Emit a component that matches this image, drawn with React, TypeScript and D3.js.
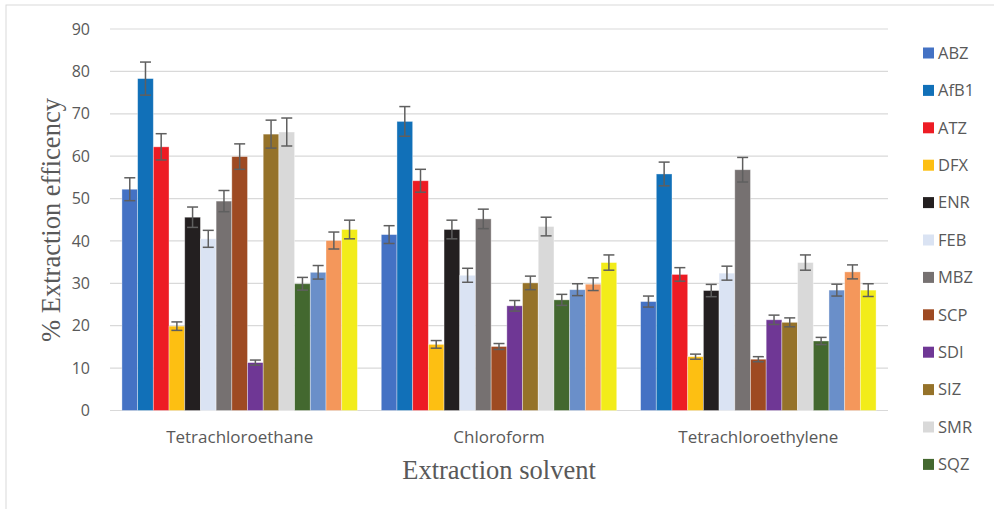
import React from "react";
import * as d3 from "d3";

// Extraction solvents (x categories)
const solvents = ["Tetrachloroethane", "Chloroform", "Tetrachloroethylene"];

// Analytes (bar series, in drawing order)
const analytes = [
  "ABZ", "AfB1", "ATZ", "DFX", "ENR", "FEB", "MBZ", "SCP",
  "SDI", "SIZ", "SMR", "SQZ", "STZ", "TBZ", "TMP",
];

// Number of legend entries that fit in the chart frame
const legendCount = 12;

const colors = [
  "#4472C4", "#1170B8", "#ED1C24", "#FDBF12", "#231F20", "#DAE3F3",
  "#767171", "#9E4A22", "#6F3795", "#957229", "#D9D9D9", "#43682F",
  "#6A8FC9", "#F4975B", "#F2EC1A",
];

// % extraction efficiency per analyte, one array per solvent
const tetrachloroethane = [52.2, 78.3, 62.2, 19.9, 45.6, 40.5, 49.4, 59.9, 11.3, 65.2, 65.7, 29.9, 32.6, 40.1, 42.7];
const chloroform = [41.5, 68.2, 54.2, 15.6, 42.7, 31.9, 45.2, 15.1, 24.7, 30.1, 43.4, 26.1, 28.5, 29.8, 34.9];
const tetrachloroethylene = [25.7, 55.8, 32.1, 12.7, 28.3, 32.4, 56.8, 12.1, 21.4, 20.8, 34.9, 16.4, 28.4, 32.7, 28.4];

// Error (± half range)
const errTetrachloroethane = [2.7, 3.9, 3.1, 1.0, 2.4, 2.0, 2.5, 3.0, 0.6, 3.3, 3.3, 1.5, 1.6, 2.0, 2.2];
const errChloroform = [2.1, 3.5, 2.7, 0.9, 2.2, 1.65, 2.3, 0.7, 1.25, 1.6, 2.2, 1.3, 1.4, 1.5, 1.8];
const errTetrachloroethylene = [1.3, 2.8, 1.6, 0.6, 1.45, 1.65, 2.9, 0.6, 1.1, 1.05, 1.8, 0.85, 1.4, 1.65, 1.5];

const yTicks = [0, 10, 20, 30, 40, 50, 60, 70, 80, 90];

const values = [tetrachloroethane, chloroform, tetrachloroethylene];
const errors = [errTetrachloroethane, errChloroform, errTetrachloroethylene];

const W = 994;
const H = 509;
const plot = { left: 110, right: 888, top: 29, bottom: 410.5 };
const textGray = "#595959";
const sans = "'Open Sans', 'Noto Sans', sans-serif";
const serif = "'Liberation Serif', 'DejaVu Serif', serif";

export default function App() {
  const x0 = d3.scaleBand<string>().domain(solvents).range([plot.left, plot.right]).padding(0);
  const x1 = d3
    .scaleBand<string>()
    .domain(analytes)
    .range([0, x0.bandwidth()])
    .paddingInner(0)
    .paddingOuter(0.76);
  const y = d3.scaleLinear().domain([0, 90]).range([plot.bottom, plot.top]);
  const bw = x1.bandwidth();
  const capHalf = 5.5;

  return (
    <svg
      width={W}
      height={H}
      viewBox={`0 0 ${W} ${H}`}
      style={{ position: "absolute", left: 0, top: 0, background: "#fff" }}
    >
      {/* chart frame */}
      <rect x={6} y={5} width={W + 20} height={H + 20} fill="#fff" stroke="#D9D9D9" strokeWidth={1} />

      {/* gridlines */}
      {yTicks.map((t) => (
        <line
          key={`g${t}`}
          x1={plot.left}
          x2={plot.right}
          y1={y(t)}
          y2={y(t)}
          stroke="#D9D9D9"
          strokeWidth={1.2}
        />
      ))}

      {/* y tick labels */}
      {yTicks.map((t) => (
        <text
          key={`t${t}`}
          x={90}
          y={y(t)}
          dy="0.35em"
          textAnchor="end"
          fontFamily={sans}
          fontSize={16}
          fill={textGray}
        >
          {t}
        </text>
      ))}

      {/* bars */}
      {solvents.map((s, gi) => (
        <g key={s} transform={`translate(${x0(s)},0)`}>
          {analytes.map((a, i) => {
            const v = values[gi][i];
            const bx = x1(a) as number;
            return (
              <rect
                key={a}
                x={bx}
                y={y(v)}
                width={bw}
                height={y(0) - y(v)}
                fill={colors[i]}
                stroke="#ffffff"
                strokeOpacity={0.45}
                strokeWidth={0.8}
              />
            );
          })}
          {analytes.map((a, i) => {
            const v = values[gi][i];
            const e = errors[gi][i];
            const cx = (x1(a) as number) + bw / 2;
            return (
              <g key={`e${a}`} stroke="#5F5F5F" strokeWidth={1.5}>
                <line x1={cx} x2={cx} y1={y(v + e)} y2={y(v - e)} />
                <line x1={cx - capHalf} x2={cx + capHalf} y1={y(v + e)} y2={y(v + e)} />
                <line x1={cx - capHalf} x2={cx + capHalf} y1={y(v - e)} y2={y(v - e)} />
              </g>
            );
          })}
        </g>
      ))}

      {/* category labels */}
      {solvents.map((s) => (
        <text
          key={`c${s}`}
          x={(x0(s) as number) + x0.bandwidth() / 2}
          y={437}
          dy="0.35em"
          textAnchor="middle"
          fontFamily={sans}
          fontSize={17}
          fill={textGray}
        >
          {s}
        </text>
      ))}

      {/* axis titles */}
      <text
        x={(plot.left + plot.right) / 2}
        y={470}
        dy="0.35em"
        textAnchor="middle"
        fontFamily={serif}
        fontSize={26.5}
        fill={textGray}
      >
        Extraction solvent
      </text>
      <text
        transform={`translate(51,${220}) rotate(-90)`}
        dy="0.35em"
        textAnchor="middle"
        fontFamily={serif}
        fontSize={26.5}
        fill={textGray}
      >
        % Extraction efficency
      </text>

      {/* legend */}
      {analytes.slice(0, legendCount).map((a, i) => {
        const ly = 53 + i * 37.4;
        return (
          <g key={`l${a}`} transform={`translate(923,${ly})`}>
            <rect x={0} y={-5.5} width={11} height={11} fill={colors[i]} />
            <text x={15} y={0} dy="0.35em" fontFamily={sans} fontSize={16.5} fill={textGray}>
              {a}
            </text>
          </g>
        );
      })}
    </svg>
  );
}
